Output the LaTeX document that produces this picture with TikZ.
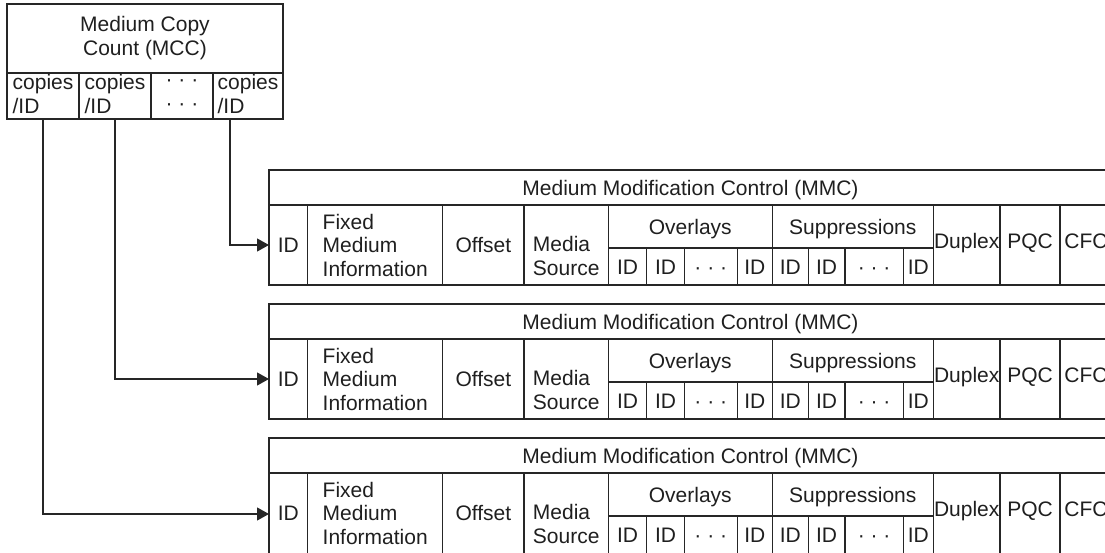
\documentclass[tikz,border=0pt]{standalone}
\usepackage{fontspec}
\setmainfont{Liberation Sans}
\usetikzlibrary{arrows.meta}
\newcommand\fsz{\fontsize{21}{23.5}\selectfont}
% \cellbox[options]{name}{x1}{y1}{x2}{y2}{text}
\newcommand\cellbox[7][]{\node[cell,#1,minimum width={(#5)-(#3)},minimum height={(#6)-(#4)}] (#2) at ({((#3)+(#5))/2},{((#4)+(#6))/2}) {#7};}
% \mmcbox{prefix}{top}{bottom}
\newcommand\mmcbox[3]{%
  \cellbox{#1-hd}{269}{#2}{1112}{#2+35}{Medium Modification Control (MMC)}
  \cellbox{#1-id}{269}{#2+35}{307.7}{#3}{}
  \node[lbl,one] (#1-idt) at (288.35,#2+74.5) {ID};
  \cellbox{#1-fmi}{307.7}{#2+35}{442.7}{#3}{}
  \node[lbl,align=left] (#1-fmit) at (375.2,#2+75) {Fixed\\Medium\\Information};
  \cellbox{#1-off}{442.7}{#2+35}{524}{#3}{}
  \node[lbl,one] (#1-offt) at (483.35,#2+74.5) {Offset};
  \cellbox{#1-ms}{524}{#2+35}{608.3}{#3}{}
  \node[lbl,align=left] (#1-mst) at (566.2,#2+86) {Media\\Source};
  \cellbox{#1-ov}{608.3}{#2+35}{772.3}{#2+78}{Overlays}
  \cellbox{#1-ov1}{608.3}{#2+78}{646.7}{#3}{}
  \cellbox{#1-ov2}{646.7}{#2+78}{684.3}{#3}{}
  \cellbox{#1-ov3}{684.3}{#2+78}{737.3}{#3}{}
  \cellbox{#1-ov4}{737.3}{#2+78}{772.3}{#3}{}
  \cellbox{#1-su}{772.3}{#2+35}{933.3}{#2+78}{Suppressions}
  \cellbox{#1-su1}{772.3}{#2+78}{808.3}{#3}{}
  \cellbox{#1-su2}{808.3}{#2+78}{845}{#3}{}
  \cellbox{#1-su3}{845}{#2+78}{903.3}{#3}{}
  \cellbox{#1-su4}{903.3}{#2+78}{933.3}{#3}{}
  \node[lbl,one] at (627.5,#2+96.5) {ID};
  \node[lbl,one] at (665.5,#2+96.5) {ID};
  \node[lbl,one] at (710.8,#2+96.5) {· · ·};
  \node[lbl,one] at (754.8,#2+96.5) {ID};
  \node[lbl,one] at (790.3,#2+96.5) {ID};
  \node[lbl,one] at (826.65,#2+96.5) {ID};
  \node[lbl,one] at (874.15,#2+96.5) {· · ·};
  \node[lbl,one] at (918.3,#2+96.5) {ID};
  \cellbox{#1-dup}{933.3}{#2+35}{1000}{#3}{}
  \node[lbl,one] (#1-dupt) at (966.7,#2+71) {Duplex};
  \cellbox{#1-pqc}{1000}{#2+35}{1060}{#3}{}
  \node[lbl,one] (#1-pqct) at (1030,#2+71) {PQC};
  \cellbox{#1-cfc}{1060}{#2+35}{1112}{#3}{}
  \node[lbl,one] (#1-cfct) at (1086,#2+71) {CFC};
}
\begin{document}
\begin{tikzpicture}[x=1pt,y=-1pt,
  lbl/.style={font=\fsz,text=black!88,inner sep=0pt,outer sep=0pt},
  one/.style={text height=15pt,text depth=0pt},
  cell/.style={lbl,one,draw=black!85,line width=1.3pt},
  conn/.style={draw=black!85,line width=1.2pt,-{Triangle[length=12pt,width=13pt]}}]
\useasboundingbox (0,0) rectangle (1105,552);
% Medium Copy Count
\cellbox{mcc}{7}{4}{283}{73}{}
\node[lbl,align=center] (mcct) at (145,38) {Medium Copy\\Count (MCC)};
\cellbox{c1}{7}{73}{79}{119}{}
\cellbox{c2}{79}{73}{151}{119}{}
\cellbox{c3}{151}{73}{213}{119}{}
\cellbox{c4}{213}{73}{283}{119}{}
\node[lbl,align=left] (c1t) at (43,94) {copies\\/ID};
\node[lbl,align=left] (c2t) at (115,94) {copies\\/ID};
\node[lbl,align=center] (c3t) at (182,95) {· · ·\\· · ·};
\node[lbl,align=left] (c4t) at (248,94) {copies\\/ID};
% three MMC boxes
\mmcbox{b1}{170}{285}
\mmcbox{b2}{304}{419}
\mmcbox{b3}{438}{560}
% connectors
\coordinate (s4) at (230,119);
\draw[conn] (s4) |- (b1-id.west);
\draw[conn] (c2.south) |- (b2-id.west);
\draw[conn] (c1.south) |- ([yshift=2.5pt]b3-id.west);
\end{tikzpicture}
\end{document}
